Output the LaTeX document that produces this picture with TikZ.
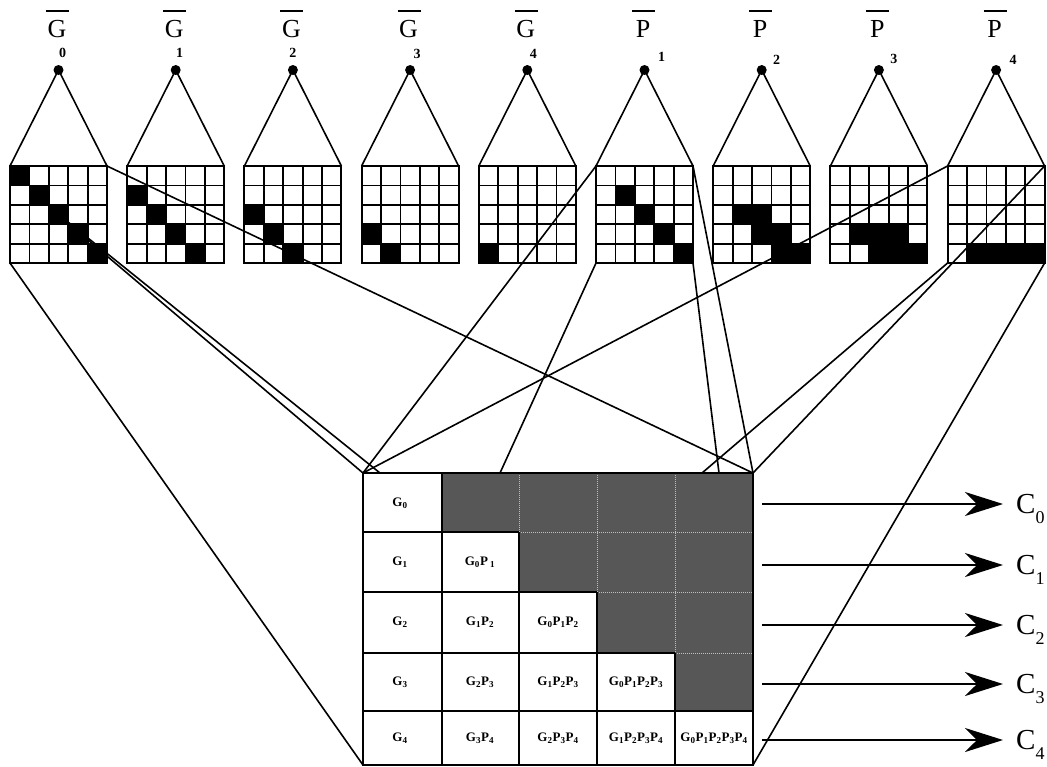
\documentclass[tikz,border=0pt]{standalone}
\usepackage{fontspec}
\setmainfont{Liberation Serif}
\usetikzlibrary{arrows.meta}
\newcommand\mysub[1]{\textsubscript{#1}}
\begin{document}
\begin{tikzpicture}[x=1pt,y=-1pt,
  conn/.style={line width=1.6pt},
  gridbox/.style={draw, line width=2pt, minimum width=97pt, minimum height=97pt, inner sep=0pt, outer sep=0pt, anchor=north west},
  gline/.style={line width=1.8pt},
  apex/.style={circle, fill=black, inner sep=0pt, minimum size=10pt},
  toplbl/.style={inner sep=0pt, font=\fontsize{26}{26}\selectfont},
  sublbl/.style={inner sep=0pt, font=\fontsize{14}{14}\selectfont\bfseries},
  mline/.style={line width=2pt},
  softline/.style={white!75!black, line width=0.8pt, dash pattern=on 1pt off 1pt},
  celltxt/.style={inner sep=0pt, font=\fontsize{13}{13}\selectfont\bfseries},
  darkcell/.style={fill=black!66},
  clbl/.style={anchor=base west, inner sep=0pt, font=\fontsize{29}{29}\selectfont},
  outarrow/.style={line width=2.4pt, -{Stealth[length=38pt,width=24pt,inset=12pt]}, shorten >=13pt}
]
\useasboundingbox (0,0) rectangle (1047,766);
\fill[white] (0,0) rectangle (1047,766);

% ---- top grids ----
\foreach \i/\lab/\sub/\soff/\sy/\cells in {
 0/G/0/4/53/{1/1,2/2,3/3,4/4,5/5},
 1/G/1/4/53/{2/1,3/2,4/3,5/4},
 2/G/2/0/53/{3/1,4/2,5/3},
 3/G/3/7/54/{4/1,5/2},
 4/G/4/6/54/{5/1},
 5/P/1/17/57/{2/2,3/3,4/4,5/5},
 6/P/2/15/60/{3/2,3/3,4/3,4/4,5/4,5/5},
 7/P/3/15/59/{4/2,4/3,4/4,5/3,5/4,5/5},
 8/P/4/17/60/{5/2,5/3,5/4,5/5}}
{
 \pgfmathsetmacro\L{10+117.2*\i}
 \foreach \r/\c in \cells {
   \fill (\L+\c*19.4-19.4, 166+\r*19.4-19.4) rectangle ++(19.4,19.4);
 }
 \foreach \t in {1,2,3,4} {
   \draw[gline] (\L+\t*19.4,166) -- ++(0,97);
   \draw[gline] (\L,166+\t*19.4) -- ++(97,0);
 }
 \node[gridbox] (gr\i) at (\L,166) {};
 \node[apex] (ap\i) at (\L+48.5,70) {};
 \draw[conn] (ap\i.center) -- (gr\i.north west) (ap\i.center) -- (gr\i.north east);
 \node[toplbl] (lb\i) at (\L+47,29) {\lab};
 \draw[line width=1.5pt] (\L+36,11) -- (\L+59,11);
 \node[sublbl] (sb\i) at (\L+48.5+\soff,\sy) {\sub};
}

% ---- bottom matrix ----
\fill[darkcell] (442,473) -- (753,473) -- (753,711) -- (675,711) -- (675,653) -- (597,653)
  -- (597,592) -- (519,592) -- (519,532) -- (442,532) -- cycle;
\draw[softline] (519,473) -- (519,532) (597,473) -- (597,592) (675,473) -- (675,653)
  (519,532) -- (753,532) (597,592) -- (753,592) (675,653) -- (753,653);
\draw[mline] (363,532) -- (519,532) (363,592) -- (597,592) (363,653) -- (675,653) (363,711) -- (753,711)
  (442,473) -- (442,765) (519,532) -- (519,765) (597,592) -- (597,765) (675,653) -- (675,765);
\node[draw, line width=2pt, minimum width=390pt, minimum height=292pt, inner sep=0pt, outer sep=0pt, anchor=north west] (M) at (363,473) {};

\node[celltxt] (c00) at (400,503) {G\mysub{0}};
\node[celltxt] (c10) at (400,562) {G\mysub{1}};
\node[celltxt] (c11) at (480,562) {G\mysub{0}P\,\mysub{1}};
\node[celltxt] (c20) at (400,622) {G\mysub{2}};
\node[celltxt] (c21) at (480,622) {G\mysub{1}P\mysub{2}};
\node[celltxt] (c22) at (558,622) {G\mysub{0}P\mysub{1}P\mysub{2}};
\node[celltxt] (c30) at (400,682) {G\mysub{3}};
\node[celltxt] (c31) at (480,682) {G\mysub{2}P\mysub{3}};
\node[celltxt] (c32) at (558,682) {G\mysub{1}P\mysub{2}P\mysub{3}};
\node[celltxt] (c33) at (636,682) {G\mysub{0}P\mysub{1}P\mysub{2}P\mysub{3}};
\node[celltxt] (c40) at (400,738) {G\mysub{4}};
\node[celltxt] (c41) at (480,738) {G\mysub{3}P\mysub{4}};
\node[celltxt] (c42) at (558,738) {G\mysub{2}P\mysub{3}P\mysub{4}};
\node[celltxt] (c43) at (636,738) {G\mysub{1}P\mysub{2}P\mysub{3}P\mysub{4}};
\node[celltxt] (c44) at (714,738) {G\mysub{0}P\mysub{1}P\mysub{2}P\mysub{3}P\mysub{4}};

% ---- connectors ----
\coordinate (gA) at (68,222);
\coordinate (gB) at (88,240);
\coordinate (mA) at (380,473);
\coordinate (mB) at (500,473);
\coordinate (mC) at (702,473);
\coordinate (mD) at (719,473);
\draw[conn] (gr0.south west) -- (M.south west);
\draw[conn] (gr0.north east) -- (M.north east);
\draw[conn] (gA) -- (mA);
\draw[conn] (gB) -- (M.north west);
\draw[conn] (gr5.north west) -- (M.north west);
\draw[conn] (gr8.north west) -- (M.north west);
\draw[conn] (gr5.south west) -- (mB);
\draw[conn] (gr5.south east) -- (mD);
\draw[conn] (gr5.north east) -- (M.north east);
\draw[conn] (gr8.south west) -- (mC);
\draw[conn] (gr8.north east) -- (M.north east);
\draw[conn] (gr8.south east) -- (M.south east);

% ---- outputs ----
\foreach \r/\y in {0/504,1/565,2/625,3/684,4/740} {
  \node[clbl] (C\r) at (1016,\y+9) {C\raisebox{-10pt}{\fontsize{18}{18}\selectfont\r}};
  \coordinate (s\r) at (762,\y);
  \draw[outarrow] (s\r) -- (s\r -| C\r.west);
}
\end{tikzpicture}
\end{document}
